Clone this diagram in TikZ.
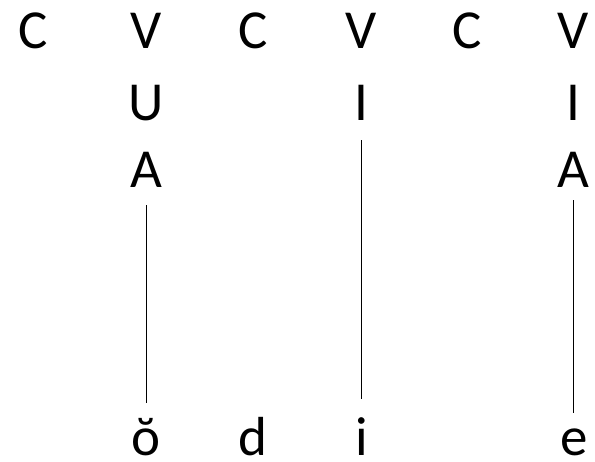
\documentclass[tikz,border=0pt]{standalone}
\usepackage{fontspec}
\setmainfont{Carlito}
\usepackage{tikz}

\begin{document}
\begin{tikzpicture}[x=1pt, y=-1pt,
        seg/.style={font=\fontsize{55}{64}\selectfont, inner sep=0pt, anchor=base},
        link/.style={line width=0.8pt}]
        \useasboundingbox (0,0) rectangle (595,461);

        % Skeleton tier
        \node[seg] (c1) at (33,48) {C};
        \node[seg] (v1) at (146,48) {V};
        \node[seg] (c2) at (253,48) {C};
        \node[seg] (v2) at (361,48) {V};
        \node[seg] (c3) at (467,48) {C};
        \node[seg] (v3) at (573,48) {V};

        % Element tiers
        \node[seg] (u1) at (146,120) {U};
        \node[seg] (i2) at (361,120) {I};
        \node[seg] (i3) at (573,120) {I};
        \node[seg] (a1) at (146,187) {A};
        \node[seg] (a3) at (573,187) {A};

        % Segmental tier
        \node[seg] (o) at (146,455) {ŏ};
        \node[seg] (d) at (253,455) {d};
        \node[seg] (i) at (362,455) {i};
        \node[seg] (e) at (574,455) {e};

        % Association lines
        \draw[link, shorten <=18pt, shorten >=15pt] (a1.south) -- (a1.south |- o.north);
        \draw[link, shorten <=20pt, shorten >=18pt] (i2.south) -- (i2.south |- i.north);
        \draw[link, shorten <=13pt, shorten >=15pt] (a3.south) -- (a3.south |- e.north);
\end{tikzpicture}
\end{document}
